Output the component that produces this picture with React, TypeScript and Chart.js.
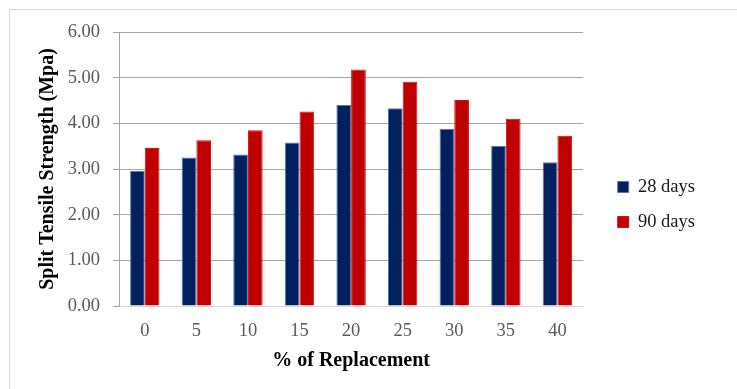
import React, { useEffect, useRef } from "react";
import { Chart, registerables } from "chart.js";

Chart.register(...registerables);

// Replacement levels (%) and split tensile strength (MPa) at two curing ages
const replacement = ["0", "5", "10", "15", "20", "25", "30", "35", "40"];
const days28 = [2.96, 3.25, 3.32, 3.58, 4.4, 4.33, 3.88, 3.51, 3.15];
const days90 = [3.46, 3.63, 3.85, 4.26, 5.18, 4.91, 4.51, 4.1, 3.73];
const seriesNames = ["28 days", "90 days"];
const yTicks = [0, 1, 2, 3, 4, 5, 6];

const SERIF = "'Liberation Serif', 'Times New Roman', serif";

// Nudges the legend block to sit a little away from the plot area
const legendShift = {
  id: "legendShift",
  afterLayout(chart: any) {
    const lg = chart.legend;
    if (!lg) return;
    const dx = 18;
    const dy = -6;
    lg.left += dx;
    lg.right += dx;
    lg.top += dy;
    lg.bottom += dy;
  },
};

export default function App() {
  const canvasRef = useRef<HTMLCanvasElement | null>(null);

  useEffect(() => {
    const ctx = canvasRef.current;
    if (!ctx) return;
    const chart = new Chart(ctx, {
      type: "bar",
      data: {
        labels: replacement,
        datasets: [
          {
            label: seriesNames[0],
            data: days28,
            backgroundColor: "#002060",
            borderColor: "#5577aa",
            borderWidth: 1,
            categoryPercentage: 0.57,
            barPercentage: 1.0,
          },
          {
            label: seriesNames[1],
            data: days90,
            backgroundColor: "#c00000",
            borderColor: "#d01010",
            borderWidth: 1,
            categoryPercentage: 0.57,
            barPercentage: 1.0,
          },
        ],
      },
      options: {
        animation: false,
        responsive: true,
        maintainAspectRatio: false,
        layout: { padding: { top: 32, right: 50, bottom: 0, left: 0 } },
        plugins: {
          tooltip: { enabled: false },
          legend: {
            position: "right",
            align: "center",
            labels: {
              boxWidth: 11,
              boxHeight: 11,
              padding: 16.5,
              color: "#1a1a1a",
              font: { family: SERIF, size: 18.5 },
            },
          },
        },
        scales: {
          x: {
            afterFit: (scale: any) => {
              scale.height = 83;
            },
            grid: { display: false, drawTicks: false },
            border: { display: true, color: "#d9d9d9", width: 1 },
            ticks: {
              color: "#595959",
              padding: 14,
              font: { family: SERIF, size: 18.5 },
            },
            title: {
              display: true,
              text: "% of Replacement",
              color: "#000000",
              font: { family: SERIF, size: 20, weight: "bold" },
              padding: { top: 0, bottom: 16 },
            },
          },
          y: {
            min: 0,
            max: 6,
            afterBuildTicks: (scale: any) => {
              scale.ticks = yTicks.map((v) => ({ value: v }));
            },
            afterFit: (scale: any) => {
              scale.width = 119;
            },
            grid: {
              color: (c: any) => (c.tick && c.tick.value === 0 ? "#d9d9d9" : "#a6a6a6"),
              tickColor: "#a6a6a6",
              tickLength: 6,
              lineWidth: 1,
            },
            border: { display: true, color: "#a6a6a6", width: 1 },
            ticks: {
              color: "#595959",
              padding: 13,
              font: { family: SERIF, size: 18.5 },
              callback: (v: any) => Number(v).toFixed(2),
            },
            title: {
              display: true,
              text: "Split Tensile Strength (Mpa)",
              color: "#000000",
              font: { family: SERIF, size: 20, weight: "bold" },
              padding: { top: 36, bottom: 0 },
            },
          },
        },
      },
      plugins: [legendShift],
    });
    return () => chart.destroy();
  }, []);

  return (
    <div
      style={{
        position: "fixed",
        left: 0,
        top: 0,
        width: 737,
        height: 389,
        overflow: "hidden",
        background: "#ffffff",
      }}
    >
      <div
        style={{
          position: "absolute",
          left: 9,
          top: 9,
          width: 760,
          height: 400,
          border: "1px solid #d9d9d9",
          boxSizing: "border-box",
        }}
      />
      <div style={{ position: "absolute", left: 0, top: 0, width: 737, height: 389 }}>
        <canvas ref={canvasRef} />
      </div>
    </div>
  );
}
